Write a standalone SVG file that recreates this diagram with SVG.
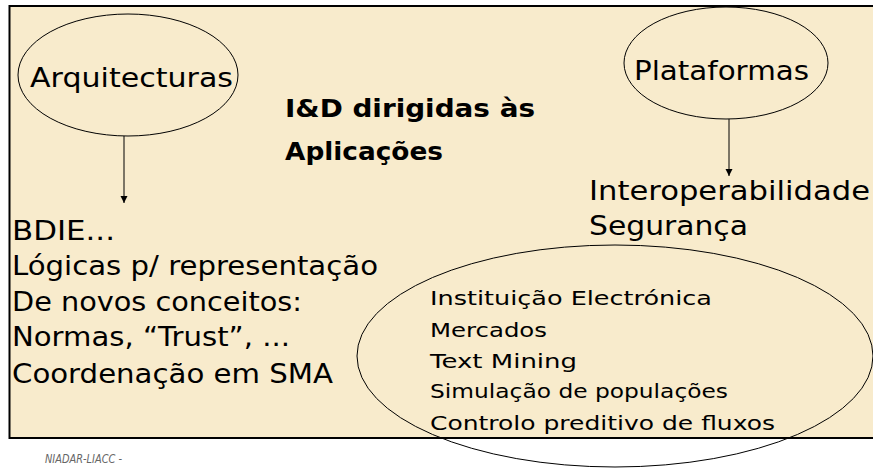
<svg xmlns="http://www.w3.org/2000/svg" width="873" height="468" viewBox="0 0 873 468">
<style>
text{font-family:"DejaVu Sans","Liberation Sans",sans-serif;fill:#000;}
.big{font-size:26px;}
.mid{font-size:20px;}
.title{font-size:24px;font-weight:bold;}
.foot{font-size:12px;font-style:italic;fill:#666;}
.shape{fill:none;stroke:#000;stroke-width:1;}
.conn{stroke:#000;stroke-width:1;fill:none;marker-end:url(#ah);}
</style>
<defs>
<marker id="ah" markerWidth="8" markerHeight="8" refX="7" refY="4" orient="auto" markerUnits="userSpaceOnUse">
<path d="M0,0.5 L7,4 L0,7.5 Z" fill="#000"/>
</marker>
</defs>
<rect x="0" y="0" width="873" height="468" fill="#fff"/>
<rect id="slide" x="9.5" y="6" width="866" height="432" fill="#F8EBCC" stroke="#000" stroke-width="2"/>
<g id="connectors">
<line class="conn" x1="124" y1="136" x2="124" y2="203"/>
<line class="conn" x1="729" y1="119" x2="729" y2="176"/>
</g>
<g id="arquitecturas">
<ellipse class="shape" cx="128" cy="75" rx="110" ry="61"/>
<text class="big" x="30" y="87" textLength="203" lengthAdjust="spacingAndGlyphs">Arquitecturas</text>
</g>
<g id="plataformas">
<ellipse class="shape" cx="726" cy="63" rx="102" ry="56"/>
<text class="big" x="634" y="80" textLength="175" lengthAdjust="spacingAndGlyphs">Plataformas</text>
</g>
<g id="titulo">
<text class="title" x="285" y="117" textLength="250" lengthAdjust="spacingAndGlyphs">I&amp;D dirigidas às</text>
<text class="title" x="285" y="160" textLength="158" lengthAdjust="spacingAndGlyphs">Aplicações</text>
</g>
<g id="plataformas-lista">
<text class="big" x="589" y="200" textLength="281" lengthAdjust="spacingAndGlyphs">Interoperabilidade</text>
<text class="big" x="589" y="235" textLength="159" lengthAdjust="spacingAndGlyphs">Segurança</text>
</g>
<g id="arquitecturas-lista">
<text class="big" x="12" y="240" textLength="103" lengthAdjust="spacingAndGlyphs">BDIE...</text>
<text class="big" x="12" y="275" textLength="366" lengthAdjust="spacingAndGlyphs">Lógicas p/ representação</text>
<text class="big" x="12" y="311" textLength="290" lengthAdjust="spacingAndGlyphs">De novos conceitos:</text>
<text class="big" x="12" y="346" textLength="278" lengthAdjust="spacingAndGlyphs">Normas, “Trust”, ...</text>
<text class="big" x="12" y="383" textLength="321" lengthAdjust="spacingAndGlyphs">Coordenação em SMA</text>
</g>
<g id="aplicacoes">
<ellipse class="shape" cx="615" cy="356" rx="258" ry="111"/>
<text class="mid" x="430" y="305" textLength="282" lengthAdjust="spacingAndGlyphs">Instituição Electrónica</text>
<text class="mid" x="430" y="337" textLength="117" lengthAdjust="spacingAndGlyphs">Mercados</text>
<text class="mid" x="430" y="368" textLength="147" lengthAdjust="spacingAndGlyphs">Text Mining</text>
<text class="mid" x="430" y="398" textLength="298" lengthAdjust="spacingAndGlyphs">Simulação de populações</text>
<text class="mid" x="430" y="430" textLength="345" lengthAdjust="spacingAndGlyphs">Controlo preditivo de fluxos</text>
</g>
<text class="foot" x="45" y="463" textLength="77" lengthAdjust="spacingAndGlyphs">NIADAR-LIACC -</text>
</svg>
